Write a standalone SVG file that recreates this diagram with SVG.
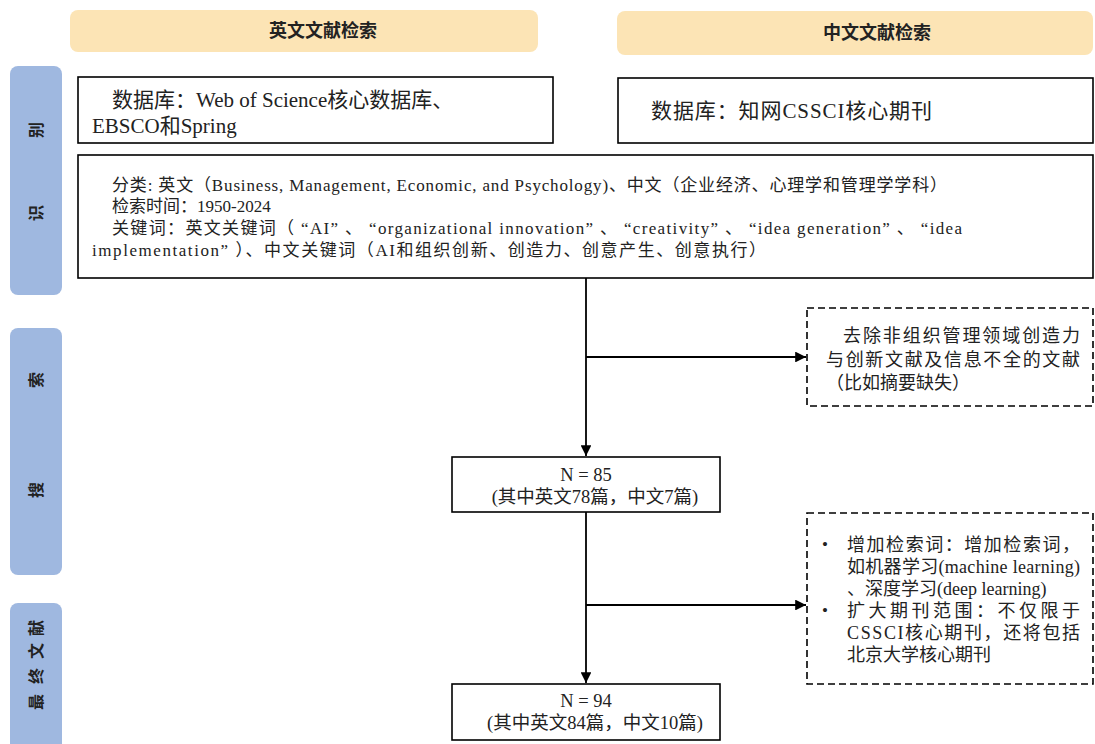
<svg xmlns="http://www.w3.org/2000/svg" width="1095" height="744" viewBox="0 0 1095 744">
<style>
.hdr{fill:#FCE4B5;}
.bar{fill:#9FB8E0;}
.box{fill:#fff;stroke:#000;stroke-width:1.6;}
.dbox{fill:#fff;stroke:#000;stroke-width:1.6;stroke-dasharray:7,4;}
.t{font-family:"Liberation Serif","Noto Sans CJK SC",serif;fill:#222;}
.h{font-family:"Liberation Serif","Noto Sans CJK SC",serif;font-weight:bold;font-size:18px;fill:#222;text-anchor:middle;}
.v{font-family:"Liberation Serif","Noto Sans CJK SC",serif;font-weight:bold;font-size:16px;fill:#222;text-anchor:middle;dominant-baseline:central;}
.ln{stroke:#000;stroke-width:1.8;fill:none;}
</style>
<defs>
<marker id="ah" viewBox="0 0 10 10" refX="10" refY="5" markerWidth="6" markerHeight="6" orient="auto" markerUnits="strokeWidth">
<path d="M0,0 L10,5 L0,10 z" fill="#000"/>
</marker>
</defs>
<rect width="1095" height="744" fill="#fff"/>

<g id="header-en">
<rect class="hdr" x="70" y="10" width="468" height="42" rx="8"/>
<text class="h" x="323" y="37">英文文献检索</text>
</g>
<g id="header-cn">
<rect class="hdr" x="617" y="11" width="476" height="44" rx="8"/>
<text class="h" x="877" y="39">中文文献检索</text>
</g>

<g id="bar-identify">
<rect class="bar" x="10" y="66" width="52" height="229" rx="8"/>
<text class="v" transform="translate(36,130) rotate(-90)">别</text>
<text class="v" transform="translate(36,213) rotate(-90)">识</text>
</g>
<g id="bar-search">
<rect class="bar" x="10" y="328" width="52" height="247" rx="8"/>
<text class="v" transform="translate(36,380) rotate(-90)">索</text>
<text class="v" transform="translate(36,490) rotate(-90)">搜</text>
</g>
<g id="bar-final">
<rect class="bar" x="10" y="603" width="52" height="150" rx="8"/>
<text class="v" transform="translate(36,628) rotate(-90)">献</text>
<text class="v" transform="translate(36,651) rotate(-90)">文</text>
<text class="v" transform="translate(36,676) rotate(-90)">终</text>
<text class="v" transform="translate(36,702) rotate(-90)">最</text>
</g>

<g id="db-en">
<rect class="box" x="78" y="77" width="475" height="66"/>
<text class="t" font-size="21" x="112" y="107">数据库：Web of Science核心数据库、</text>
<text class="t" font-size="21" x="92" y="133">EBSCO和Spring</text>
</g>
<g id="db-cn">
<rect class="box" x="618" y="78" width="475" height="65"/>
<text class="t" font-size="21" x="651" y="118" textLength="281" lengthAdjust="spacing">数据库：知网CSSCI核心期刊</text>
</g>

<g id="criteria">
<rect class="box" x="78" y="155" width="1015" height="123"/>
<text class="t" font-size="17" x="112" y="191" textLength="835" lengthAdjust="spacing">分类: 英文（Business, Management, Economic, and Psychology)、中文（企业经济、心理学和管理学学科）</text>
<text class="t" font-size="17" x="112" y="212">检索时间：1950-2024</text>
<text class="t" font-size="17" x="112" y="234" textLength="850" lengthAdjust="spacing">关键词：英文关键词（ “AI” 、 “organizational innovation” 、 “creativity” 、 “idea generation” 、 “idea</text>
<text class="t" font-size="17" x="92" y="256" textLength="674" lengthAdjust="spacing">implementation” ）、中文关键词（AI和组织创新、创造力、创意产生、创意执行）</text>
</g>

<g id="exclude">
<rect class="dbox" x="807" y="308" width="286" height="98"/>
<text class="t" font-size="18" x="843" y="342" textLength="237" lengthAdjust="spacing">去除非组织管理领域创造力</text>
<text class="t" font-size="18" x="826" y="366" textLength="254" lengthAdjust="spacing">与创新文献及信息不全的文献</text>
<text class="t" font-size="18" x="826" y="389">（比如摘要缺失）</text>
</g>

<g id="n85">
<rect class="box" x="452" y="457" width="268" height="55"/>
<text class="t" font-size="18.5" x="586" y="481" text-anchor="middle">N = 85</text>
<text class="t" font-size="18.5" x="595" y="503" text-anchor="middle">(其中英文78篇，中文7篇)</text>
</g>

<g id="expand">
<rect class="dbox" x="807" y="513" width="286" height="171"/>
<text class="t" font-size="17" x="822" y="550">•</text>
<text class="t" font-size="18" x="847" y="551" textLength="233" lengthAdjust="spacing">增加检索词：增加检索词，</text>
<text class="t" font-size="18" x="847" y="573" textLength="233" lengthAdjust="spacing">如机器学习(machine learning)</text>
<text class="t" font-size="18" x="847" y="595">、深度学习(deep learning)</text>
<text class="t" font-size="17" x="822" y="616">•</text>
<text class="t" font-size="18" x="847" y="617" textLength="233" lengthAdjust="spacing">扩大期刊范围：不仅限于</text>
<text class="t" font-size="18" x="847" y="639" textLength="233" lengthAdjust="spacing">CSSCI核心期刊，还将包括</text>
<text class="t" font-size="18" x="847" y="661">北京大学核心期刊</text>
</g>

<g id="n94">
<rect class="box" x="452" y="684" width="268" height="56"/>
<text class="t" font-size="18.5" x="586" y="707" text-anchor="middle">N = 94</text>
<text class="t" font-size="18.5" x="595" y="729" text-anchor="middle">(其中英文84篇，中文10篇)</text>
</g>

<g id="connectors">
<line class="ln" x1="586" y1="278" x2="586" y2="456" marker-end="url(#ah)"/>
<line class="ln" x1="586" y1="357" x2="806" y2="357" marker-end="url(#ah)"/>
<line class="ln" x1="586" y1="512" x2="586" y2="683" marker-end="url(#ah)"/>
<line class="ln" x1="586" y1="605" x2="806" y2="605" marker-end="url(#ah)"/>
</g>
</svg>
